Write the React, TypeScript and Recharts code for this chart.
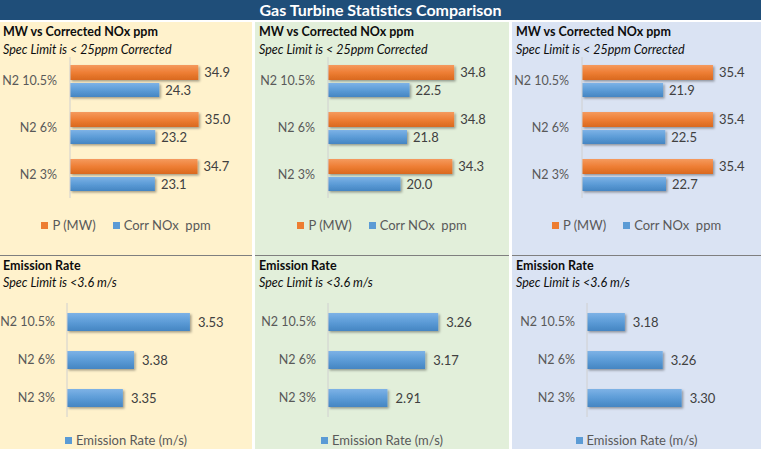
import React from 'react';
import { BarChart, Bar, XAxis, YAxis, LabelList, Legend } from 'recharts';

// categories shared by every panel (top to bottom)
const categories = ['N2 10.5%', 'N2 6%', 'N2 3%'];

// MW vs corrected NOx, one pair per turbine
const powerMW1 = [34.9, 35.0, 34.7];
const noxPpm1 = [24.3, 23.2, 23.1];
const powerMW2 = [34.8, 34.8, 34.3];
const noxPpm2 = [22.5, 21.8, 20.0];
const powerMW3 = [35.4, 35.4, 35.4];
const noxPpm3 = [21.9, 22.5, 22.7];

// emission rate (m/s)
const emission1 = [3.53, 3.38, 3.35];
const emission2 = [3.26, 3.17, 2.91];
const emission3 = [3.18, 3.26, 3.3];

const noxDomain: [number, number] = [0, 40];
const emissionDomains: [number, number][] = [
  [3.2, 3.6],
  [2.5, 3.5],
  [3.1, 3.4],
];

const ORANGE = '#ED7D31';
const BLUE = '#5B9BD5';
const LABEL = '#595959';
const VALUE = '#404040';
const FONT = 'Lato, "Open Sans", sans-serif';

const columns = [
  { left: 0, width: 252, bg: '#FFF2CC', topAxis: 70, topPlot: 147, botAxis: 67, botPlot: 149 },
  { left: 255, width: 254, bg: '#E2EFDA', topAxis: 73, topPlot: 145, botAxis: 73, botPlot: 145 },
  { left: 512, width: 249, bg: '#DAE3F3', topAxis: 70, topPlot: 148, botAxis: 75, botPlot: 142 },
];

const noxSets = [
  { p: powerMW1, n: noxPpm1 },
  { p: powerMW2, n: noxPpm2 },
  { p: powerMW3, n: noxPpm3 },
];
const emissionSets = [emission1, emission2, emission3];

function LegendRow({ items }: { items: { name: string; color: string }[] }) {
  return (
    <div
      style={{
        display: 'flex',
        justifyContent: 'center',
        gap: 17,
        fontSize: 13,
        lineHeight: '16px',
        color: LABEL,
        fontFamily: FONT,
      }}
    >
      {items.map((it) => (
        <span key={it.name} style={{ display: 'flex', alignItems: 'center', whiteSpace: 'pre' }}>
          <span style={{ width: 7, height: 7, background: it.color, marginRight: 4 }} />
          {it.name}
        </span>
      ))}
    </div>
  );
}

function BarDefs({ id }: { id: string }) {
  return (
    <defs>
      <linearGradient id={`${id}-o`} x1="0" y1="0" x2="0" y2="1">
        <stop offset="0%" stopColor="#F59A5E" />
        <stop offset="50%" stopColor="#EE7E34" />
        <stop offset="100%" stopColor="#D9691F" />
      </linearGradient>
      <linearGradient id={`${id}-b`} x1="0" y1="0" x2="0" y2="1">
        <stop offset="0%" stopColor="#7DB2E6" />
        <stop offset="50%" stopColor="#5C9CD7" />
        <stop offset="100%" stopColor="#4585C2" />
      </linearGradient>
      <filter id={`${id}-s`} x="-10%" y="-40%" width="130%" height="200%">
        <feDropShadow dx="1.5" dy="1.5" stdDeviation="1" floodColor="#000" floodOpacity="0.35" />
      </filter>
    </defs>
  );
}

function NoxChart({ idx }: { idx: number }) {
  const col = columns[idx];
  const set = noxSets[idx];
  const data = categories.map((c, i) => ({ cat: c, p: set.p[i], n: set.n[i] }));
  const id = `nox${idx}`;
  return (
    <BarChart
      width={col.width}
      height={232}
      data={data}
      layout="vertical"
      margin={{ top: 35, right: col.width - col.topAxis - col.topPlot, bottom: 56, left: 0 }}
      barGap={3}
    >
      <BarDefs id={id} />
      <XAxis type="number" hide domain={noxDomain} />
      <YAxis
        type="category"
        dataKey="cat"
        width={col.topAxis}
        tickLine={false}
        tickSize={6}
        tickMargin={7}
        axisLine={{ stroke: '#D0D0D0' }}
        tick={{ fill: LABEL, fontSize: 12.5, fontFamily: FONT }}
      />
      <Legend
        layout="horizontal"
        verticalAlign="middle"
        align="center"
        wrapperStyle={{ top: 195, left: 0, width: col.width }}
        content={() => (
          <LegendRow
            items={[
              { name: 'P (MW)', color: ORANGE },
              { name: 'Corr NOx  ppm', color: BLUE },
            ]}
          />
        )}
      />
      <Bar dataKey="p" name="P (MW)" fill={`url(#${id}-o)`} filter={`url(#${id}-s)`} barSize={15} isAnimationActive={false}>
        <LabelList
          dataKey="p"
          position="right"
          offset={6}
          fill={VALUE}
          fontSize={13}
          fontFamily={FONT}
          formatter={(v: number) => v.toFixed(1)}
        />
      </Bar>
      <Bar dataKey="n" name="Corr NOx  ppm" fill={`url(#${id}-b)`} filter={`url(#${id}-s)`} barSize={14} isAnimationActive={false}>
        <LabelList
          dataKey="n"
          position="right"
          offset={6}
          fill={VALUE}
          fontSize={13}
          fontFamily={FONT}
          formatter={(v: number) => v.toFixed(1)}
        />
      </Bar>
    </BarChart>
  );
}

function EmissionChart({ idx }: { idx: number }) {
  const col = columns[idx];
  const data = categories.map((c, i) => ({ cat: c, e: emissionSets[idx][i] }));
  const id = `em${idx}`;
  return (
    <BarChart
      width={col.width}
      height={193}
      data={data}
      layout="vertical"
      margin={{ top: 47, right: col.width - col.botAxis - col.botPlot, bottom: 32, left: 0 }}
    >
      <BarDefs id={id} />
      <XAxis type="number" hide domain={emissionDomains[idx]} allowDataOverflow />
      <YAxis
        type="category"
        dataKey="cat"
        width={col.botAxis}
        tickLine={false}
        tickSize={6}
        tickMargin={6}
        axisLine={{ stroke: '#D0D0D0' }}
        tick={{ fill: LABEL, fontSize: 12.5, fontFamily: FONT }}
      />
      <Legend
        layout="horizontal"
        verticalAlign="middle"
        align="center"
        wrapperStyle={{ top: 176, left: 0, width: col.width }}
        content={() => <LegendRow items={[{ name: 'Emission Rate (m/s)', color: BLUE }]} />}
      />
      <Bar dataKey="e" name="Emission Rate (m/s)" fill={`url(#${id}-b)`} filter={`url(#${id}-s)`} barSize={18} isAnimationActive={false}>
        <LabelList
          dataKey="e"
          position="right"
          offset={8}
          fill={VALUE}
          fontSize={13}
          fontFamily={FONT}
          formatter={(v: number) => v.toFixed(2)}
        />
      </Bar>
    </BarChart>
  );
}

const headStyle: React.CSSProperties = {
  position: 'absolute',
  fontSize: 12.5,
  lineHeight: '16px',
  color: '#0D0D0D',
  whiteSpace: 'nowrap',
};

export default function App() {
  return (
    <div
      style={{
        position: 'fixed',
        left: 0,
        top: 0,
        width: 761,
        height: 449,
        background: '#FFFFFF',
        fontFamily: FONT,
        overflow: 'hidden',
      }}
    >
      <div
        style={{
          position: 'absolute',
          left: 0,
          top: 0,
          width: 761,
          height: 20,
          background: '#1F4E79',
          color: '#FFFFFF',
          fontWeight: 700,
          fontSize: 16,
          lineHeight: '20px',
          textAlign: 'center',
        }}
      >
        Gas Turbine Statistics Comparison
      </div>
      {columns.map((col, idx) => (
        <div
          key={idx}
          style={{
            position: 'absolute',
            left: col.left,
            top: 22,
            width: col.width,
            height: 427,
            background: col.bg,
          }}
        >
          <div style={{ position: 'absolute', left: 0, top: 0 }}>
            <NoxChart idx={idx} />
          </div>
          <div style={{ ...headStyle, left: 3 + (idx > 0 ? 1 : 0), top: 2, fontWeight: 700 }}>
            MW vs Corrected NOx ppm
          </div>
          <div style={{ ...headStyle, left: 3 + (idx > 0 ? 1 : 0), top: 20, fontStyle: 'italic' }}>
            Spec Limit is &lt; 25ppm Corrected
          </div>
          <div
            style={{
              position: 'absolute',
              left: 0,
              top: 233,
              width: col.width,
              height: 1,
              background: '#7F7F7F',
            }}
          />
          <div style={{ position: 'absolute', left: 0, top: 234 }}>
            <EmissionChart idx={idx} />
          </div>
          <div style={{ ...headStyle, left: 3 + (idx > 0 ? 1 : 0), top: 236, fontWeight: 700 }}>
            Emission Rate
          </div>
          <div style={{ ...headStyle, left: 3 + (idx > 0 ? 1 : 0), top: 253, fontStyle: 'italic' }}>
            Spec Limit is &lt;3.6 m/s
          </div>
        </div>
      ))}
    </div>
  );
}
